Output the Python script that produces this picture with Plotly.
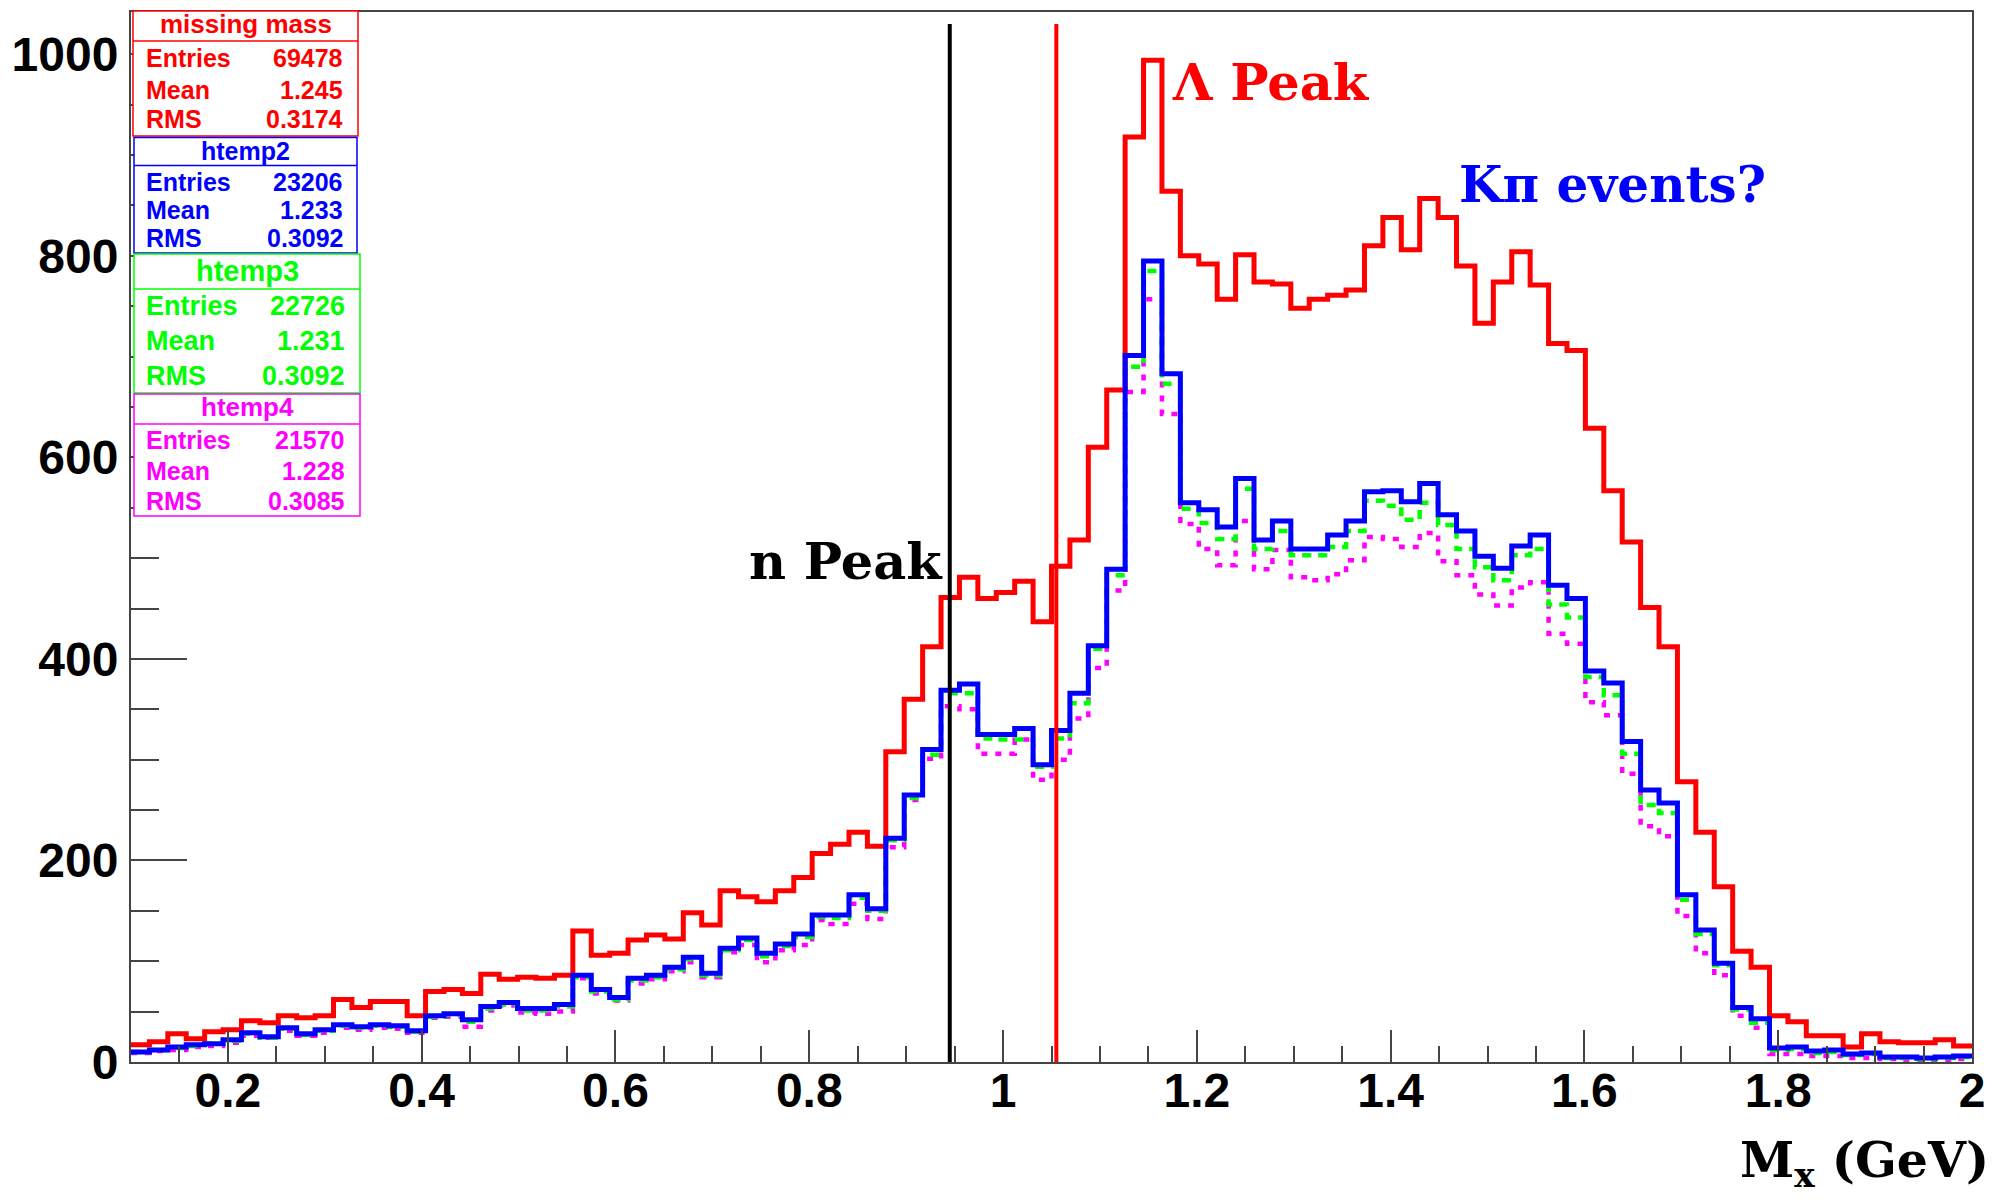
import plotly.graph_objects as go

# ---------------- data ----------------
bin_lo = 0.1
bin_hi = 2.0
n_bins = 100

missing_mass = [17, 20, 28, 23, 30, 32, 41, 39, 46, 44,
                46, 62, 54, 60, 60, 46, 70, 72, 68, 87,
                82, 84, 83, 86, 130, 106, 108, 121, 126, 122,
                148, 136, 170, 164, 159, 170, 183, 207, 216, 228,
                214, 308, 360, 412, 461, 481, 460, 466, 477, 437,
                492, 518, 610, 667, 918, 994, 864, 800, 792, 757,
                801, 774, 772, 748, 757, 761, 766, 810, 838, 806,
                857, 838, 790, 733, 774, 804, 771, 713, 706, 629,
                567, 516, 451, 412, 278, 228, 174, 110, 94, 46,
                40, 26, 26, 15, 28, 20, 19, 19, 22, 16]

htemp2 = [10, 12, 15, 17, 18, 22, 29, 25, 34, 28,
          32, 37, 35, 37, 36, 31, 46, 48, 42, 55,
          59, 53, 53, 57, 86, 72, 64, 83, 86, 94,
          104, 88, 113, 123, 108, 117, 127, 146, 146, 166,
          152, 222, 265, 310, 369, 375, 325, 325, 331, 295,
          329, 366, 413, 489, 701, 795, 683, 555, 548, 531,
          579, 518, 537, 509, 509, 523, 537, 566, 567, 556,
          574, 543, 527, 502, 490, 512, 523, 473, 460, 388,
          376, 318, 270, 257, 166, 131, 98, 54, 43, 14,
          15, 11, 12, 8, 9, 5, 5, 4, 5, 6]

htemp3 = [10, 12, 14, 16, 18, 21, 28, 24, 33, 27,
          31, 36, 34, 36, 35, 30, 45, 47, 40, 53,
          57, 51, 51, 55, 84, 70, 62, 81, 84, 92,
          102, 86, 111, 121, 105, 115, 124, 144, 143, 163,
          150, 220, 262, 305, 366, 366, 321, 320, 320, 293,
          321, 356, 410, 483, 690, 785, 673, 549, 535, 519,
          569, 509, 527, 503, 503, 511, 527, 557, 552, 538,
          555, 533, 509, 491, 478, 503, 509, 454, 441, 382,
          364, 306, 255, 247, 161, 127, 96, 52, 39, 12,
          13, 9, 10, 7, 8, 4, 4, 3, 4, 5]

htemp4 = [9, 11, 12, 15, 16, 19, 26, 24, 31, 26,
          29, 34, 32, 34, 33, 29, 44, 45, 35, 51,
          56, 49, 48, 50, 83, 68, 61, 78, 82, 90,
          99, 84, 109, 116, 99, 111, 116, 141, 137, 157,
          142, 213, 260, 301, 353, 350, 306, 306, 320, 280,
          300, 341, 391, 468, 665, 757, 643, 534, 509, 493,
          537, 489, 508, 481, 478, 484, 498, 521, 519, 511,
          525, 497, 483, 464, 453, 471, 476, 425, 415, 357,
          344, 286, 234, 224, 145, 108, 86, 46, 34, 8,
          8, 6, 6, 4, 4, 3, 2, 2, 2, 3]

hist_names = ["missing mass", "htemp2", "htemp3", "htemp4"]
stat_entries = ["69478", "23206", "22726", "21570"]
stat_means = ["1.245", "1.233", "1.231", "1.228"]
stat_rms = ["0.3174", "0.3092", "0.3092", "0.3085"]

n_peak_x = 0.945
lambda_line_x = 1.055
line_top = 1030

x_tick_vals = [0.2, 0.4, 0.6, 0.8, 1.0, 1.2, 1.4, 1.6, 1.8, 2.0]
x_tick_labels = ["0.2", "0.4", "0.6", "0.8", "1", "1.2", "1.4", "1.6", "1.8", "2"]
y_tick_vals = [0, 200, 400, 600, 800, 1000]
y_tick_labels = ["0", "200", "400", "600", "800", "1000"]

# ---------------- figure ----------------
OFF = 8                      # page body margin
PL, PR, PT, PB = 131, 1972, 12, 1062   # plot area in page pixels
W, H = 1999 - 2 * OFF, 1202 - 2 * OFF
ML = PL - OFF
MT = PT - OFF
MR = W - (PR - OFF)
MB = H - (PB - OFF)
PW = PR - PL
PH = PB - PT


def px(xp):
    return (xp - PL) / PW


def py(yp):
    return (PB - yp) / PH


width = (bin_hi - bin_lo) / n_bins
edges = [bin_lo + i * width for i in range(n_bins + 1)]

fig = go.Figure()

series = [
    (htemp4, "#ff00ff", "6px,8px", 4.5),
    (htemp3, "#00ff00", "9px,7px", 4.5),
    (missing_mass, "#ff0000", "solid", 5),
    (htemp2, "#0000ff", "solid", 5),
]
for vals, col, dash, lw in series:
    fig.add_trace(go.Scatter(
        x=edges, y=list(vals) + [vals[-1]],
        mode="lines", line=dict(color=col, width=lw, dash=dash, shape="hv"),
        showlegend=False, hoverinfo="skip"))

# vertical reference lines
fig.add_shape(type="line", xref="x", yref="y", x0=n_peak_x, x1=n_peak_x,
              y0=0, y1=line_top, line=dict(color="black", width=4))
fig.add_shape(type="line", xref="x", yref="y", x0=lambda_line_x, x1=lambda_line_x,
              y0=0, y1=line_top, line=dict(color="#ff0000", width=4))

# stats boxes
box_cols = ["#ff0000", "#0000ff", "#00ff00", "#ff00ff"]
boxes = [
    dict(x0=133, x1=358, y0=11, y1=136, div=41, ty=24, rows=[57.5, 89.6, 119], tf=26, rf=25, vr=345),
    dict(x0=134, x1=357, y0=137.5, y1=253, div=165.5, ty=151, rows=[181.5, 209.6, 238.3], tf=25, rf=25, vr=345),
    dict(x0=134, x1=360, y0=254, y1=393, div=289, ty=270.5, rows=[306, 341.5, 376], tf=29, rf=27, vr=347),
    dict(x0=134, x1=360, y0=394, y1=516, div=424, ty=407.4, rows=[440, 470.6, 501], tf=26, rf=25, vr=347),
]
for i, b in enumerate(boxes):
    col = box_cols[i]
    fig.add_shape(type="rect", xref="paper", yref="paper",
                  x0=px(b["x0"]), x1=px(b["x1"]), y0=py(b["y1"]), y1=py(b["y0"]),
                  line=dict(color=col, width=1.5), fillcolor="white", layer="above")
    fig.add_shape(type="line", xref="paper", yref="paper",
                  x0=px(b["x0"]), x1=px(b["x1"]), y0=py(b["div"]), y1=py(b["div"]),
                  line=dict(color=col, width=1.5), layer="above")
    fig.add_annotation(xref="paper", yref="paper", x=px((b["x0"] + b["x1"]) / 2), y=py(b["ty"]),
                       text="<b>%s</b>" % hist_names[i], showarrow=False,
                       xanchor="center", yanchor="middle",
                       font=dict(family="Liberation Sans", size=b["tf"], color=col))
    labels = ["Entries", "Mean", "RMS"]
    vals = [stat_entries[i], stat_means[i], stat_rms[i]]
    for j in range(3):
        fig.add_annotation(xref="paper", yref="paper", x=px(144), y=py(b["rows"][j]),
                           text="<b>%s</b>" % labels[j], showarrow=False,
                           xanchor="left", yanchor="middle",
                           font=dict(family="Liberation Sans", size=b["rf"], color=col))
        fig.add_annotation(xref="paper", yref="paper", x=px(b["vr"]), y=py(b["rows"][j]),
                           text="<b>%s</b>" % vals[j], showarrow=False,
                           xanchor="right", yanchor="middle",
                           font=dict(family="Liberation Sans", size=b["rf"], color=col))

serif = "DejaVu Serif"
fig.add_annotation(xref="paper", yref="paper", x=px(1170), y=py(82),
                   text="<b>Λ Peak</b>", showarrow=False, xanchor="left", yanchor="middle",
                   font=dict(family=serif, size=51, color="#ff0000"))
fig.add_annotation(xref="paper", yref="paper", x=px(1457), y=py(184),
                   text="<b>Kπ events?</b>", showarrow=False, xanchor="left", yanchor="middle",
                   font=dict(family=serif, size=50, color="#0000ff"))
fig.add_annotation(xref="paper", yref="paper", x=px(747), y=py(561),
                   text="<b>n Peak</b>", showarrow=False, xanchor="left", yanchor="middle",
                   font=dict(family=serif, size=51, color="black"))
fig.add_annotation(xref="paper", yref="paper", x=px(1990), y=py(1163),
                   text="<b>M<sub>x</sub> (GeV)</b>", showarrow=False, xanchor="right", yanchor="middle",
                   borderpad=0,
                   font=dict(family=serif, size=49, color="black"))

axis_font = dict(family="Liberation Sans", size=48, color="black")
fig.update_xaxes(range=[bin_lo, bin_hi], showgrid=False, zeroline=False, automargin=False,
                 showline=True, linecolor="#444", linewidth=2, mirror=True,
                 ticks="inside", ticklen=32, tickwidth=2, tickcolor="#444",
                 tickvals=x_tick_vals, ticktext=["<b>%s</b>" % t for t in x_tick_labels],
                 tickfont=axis_font, ticklabelstandoff=-15,
                 minor=dict(ticks="inside", ticklen=16, tickwidth=2, tickcolor="#444",
                            dtick=0.05, tick0=0.1, showgrid=False))
fig.update_yaxes(range=[0, 1042], showgrid=False, zeroline=False, automargin=False,
                 showline=True, linecolor="#444", linewidth=2, mirror=True,
                 ticks="inside", ticklen=56, tickwidth=2, tickcolor="#444",
                 tickvals=y_tick_vals, ticktext=["<b>%s</b>" % t for t in y_tick_labels],
                 tickfont=axis_font, ticklabelstandoff=1,
                 minor=dict(ticks="inside", ticklen=28, tickwidth=2, tickcolor="#444",
                            dtick=50, tick0=0, showgrid=False))

fig.update_layout(width=W, height=H, margin=dict(l=ML, r=MR, t=MT, b=MB, autoexpand=False),
                  paper_bgcolor="white", plot_bgcolor="white", showlegend=False)

fig.write_html("out.html")
